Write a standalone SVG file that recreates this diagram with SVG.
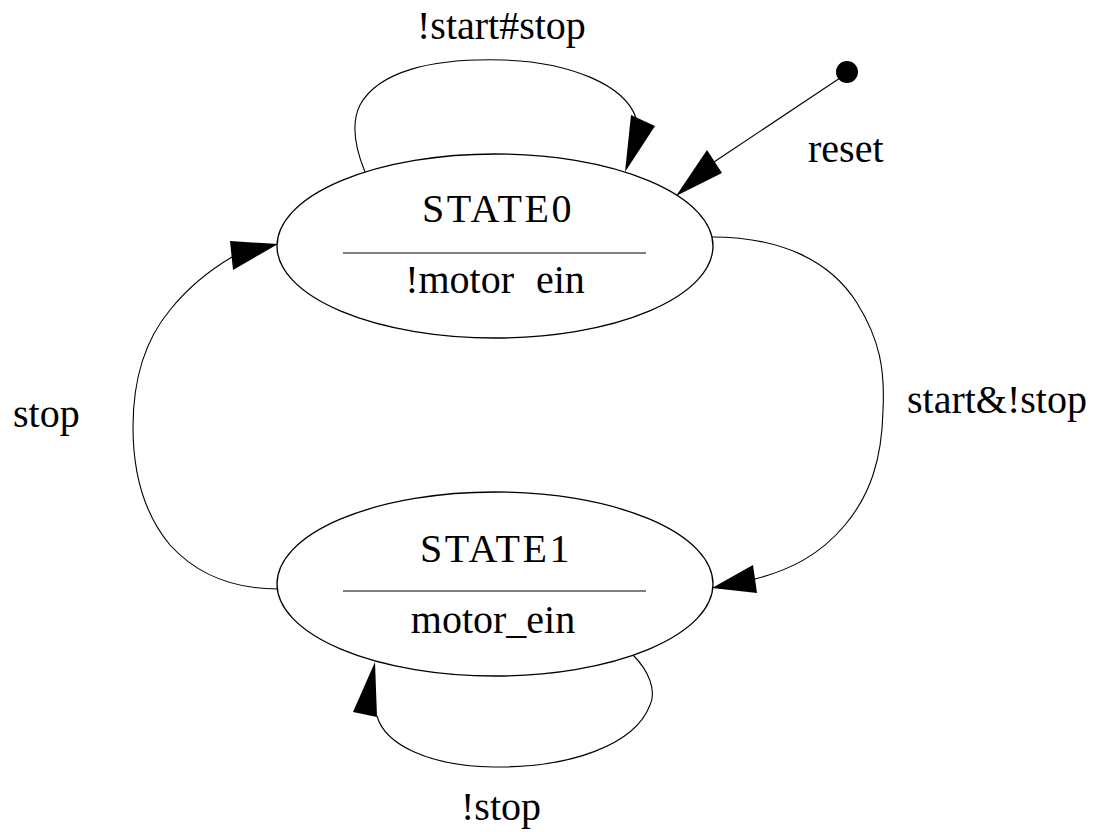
<svg xmlns="http://www.w3.org/2000/svg" width="1099" height="832" viewBox="0 0 1099 832">
<style>
.st{fill:#fff;stroke:#000;stroke-width:1.3}
.sep{stroke:#000;stroke-width:1}
.t{font-family:'Liberation Serif','DejaVu Serif',serif;font-size:40px;fill:#000}
.c{fill:none;stroke:#000;stroke-width:1.1}
.ah{fill:#000;stroke:none}
</style>
<rect width="1099" height="832" fill="#fff"/>
<g id="connectors">
  <path class="c" d="M365,172 C356,150 350,125 360,105 C378,72 430,58 503,60 C570,62 625,85 636,118"/>
  <polygon class="ah" points="625,172 631,115 655,126"/>
  <line class="c" x1="840" y1="78" x2="714" y2="162"/>
  <polygon class="ah" points="676,196 707,150 722,173"/>
  <path class="c" d="M712,237 C780,237 830,260 857,303 C880,340 885,370 883,410 C882,460 870,495 845,525 C820,555 790,570 755,579"/>
  <polygon class="ah" points="712,588 753,565 757,593"/>
  <path class="c" d="M278,589 C240,589 200,578 170,545 C145,515 133,475 133,427 C133,380 145,340 170,310 C190,285 210,270 232,257"/>
  <polygon class="ah" points="278,244 230,241 233,270"/>
  <path class="c" d="M633,655 C648,670 657,690 650,705 C635,745 570,768 493,767 C430,766 385,745 377,716"/>
  <polygon class="ah" points="375,662 353,712 377,717"/>
  <text class="t" x="417" y="39">!start#stop</text>
  <text class="t" x="808" y="162">reset</text>
  <text class="t" x="907" y="413">start&amp;!stop</text>
  <text class="t" x="13" y="427">stop</text>
  <text class="t" x="461" y="820">!stop</text>
</g>
<g id="reset">
  <circle cx="847" cy="72" r="11" fill="#000"/>
</g>
<g id="STATE0">
  <ellipse class="st" cx="495" cy="246" rx="218" ry="92"/>
  <line class="sep" x1="343" y1="253" x2="646" y2="253"/>
  <text class="t" x="498" y="222" text-anchor="middle" letter-spacing="2.5">STATE0</text>
  <text class="t" x="495" y="293" text-anchor="middle" word-spacing="12">!motor ein</text>
</g>
<g id="STATE1">
  <ellipse class="st" cx="495" cy="584" rx="218" ry="92"/>
  <line class="sep" x1="343" y1="591" x2="646" y2="591"/>
  <text class="t" x="496" y="562" text-anchor="middle" letter-spacing="2.5">STATE1</text>
  <text class="t" x="493" y="633" text-anchor="middle">motor_ein</text>
</g>
</svg>
